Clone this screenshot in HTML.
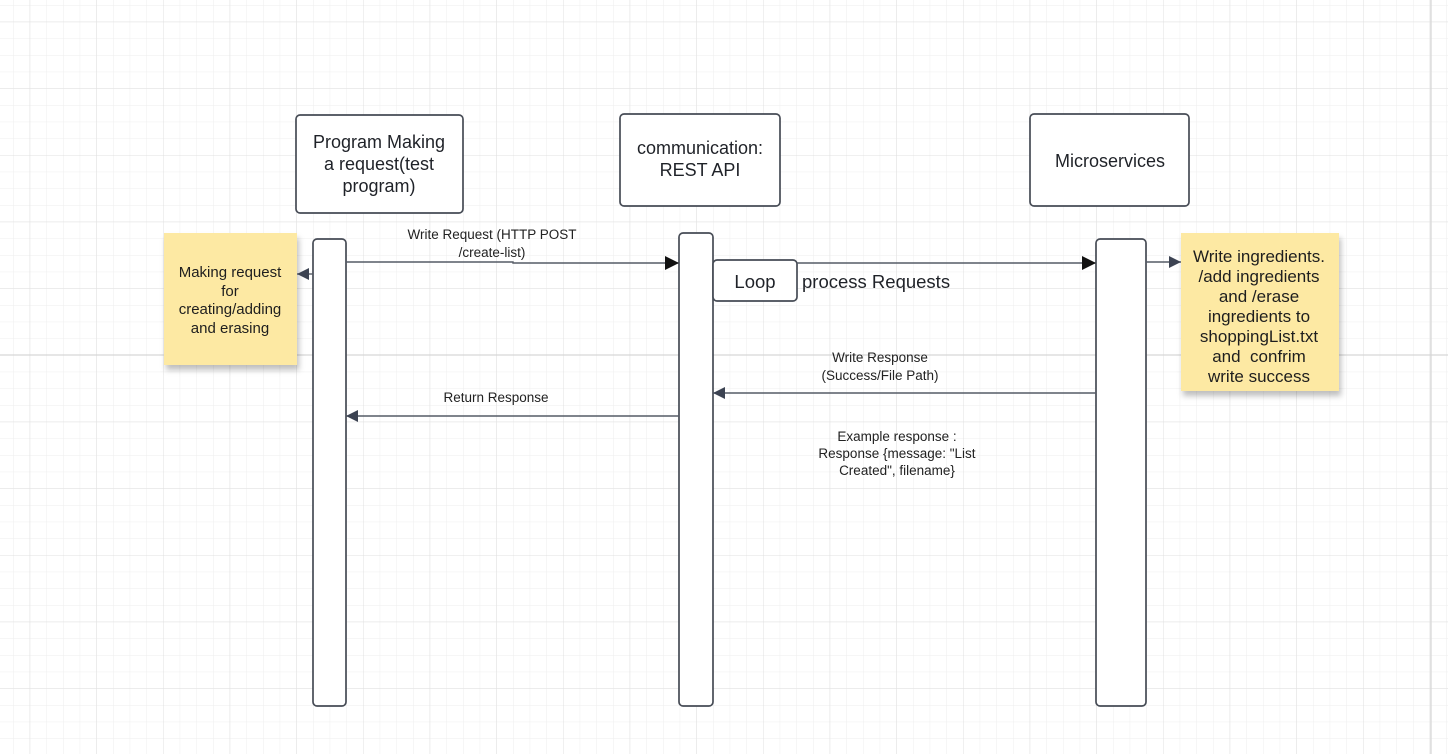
<!DOCTYPE html>
<html><head><meta charset="utf-8"><style>
html,body{margin:0;padding:0;background:#fff;}
svg{display:block;font-family:"Liberation Sans",Arial,sans-serif;}
</style></head><body>
<svg width="1448" height="754" viewBox="0 0 1448 754" xmlns="http://www.w3.org/2000/svg">
<defs>
<pattern id="minor" x="29.67" y="21.67" width="16.667" height="16.667" patternUnits="userSpaceOnUse">
<path d="M0 0H16.667M0 0V16.667" stroke="#eeeeee" stroke-width="1" fill="none"/>
</pattern>
<pattern id="major" x="29.67" y="21.67" width="66.667" height="66.667" patternUnits="userSpaceOnUse">
<path d="M0 0H66.667M0 0V66.667" stroke="#e0e0e0" stroke-width="1" fill="none"/>
</pattern>
<filter id="sh" x="-10%" y="-10%" width="130%" height="130%"><feDropShadow dx="2" dy="5" stdDeviation="3" flood-color="#000" flood-opacity="0.25"/></filter>
<marker id="fa" viewBox="0 0 10 10" refX="10" refY="5" markerWidth="19" markerHeight="14" markerUnits="userSpaceOnUse" orient="auto"><path d="M0 0L10 5L0 10z" fill="#111"/></marker>
<marker id="sa" viewBox="0 0 10 10" refX="10" refY="5" markerWidth="13" markerHeight="12" markerUnits="userSpaceOnUse" orient="auto"><path d="M0 0L10 5L0 10z" fill="#3c4352"/></marker>
</defs>
<rect width="1448" height="754" fill="#fff"/>
<rect width="1448" height="754" fill="url(#minor)"/>
<rect width="1448" height="754" fill="url(#major)"/>
<path d="M0 355H1448M1431 0V754" stroke="#d6d6d6" stroke-width="1.2"/>

<g fill="#fff" stroke="#464b55" stroke-width="1.7">
<rect x="296" y="115" width="167" height="98" rx="4"/>
<rect x="620" y="114" width="160" height="92" rx="4"/>
<rect x="1030" y="114" width="159" height="92" rx="4"/>
<rect x="313" y="239" width="33" height="467" rx="4"/>
<rect x="679" y="233" width="34" height="473" rx="4"/>
<rect x="1096" y="239" width="50" height="467" rx="4"/>
<rect x="713" y="260" width="84" height="41" rx="4"/>
</g>

<rect x="164" y="233" width="133" height="132" fill="#fde9a3" filter="url(#sh)"/>
<rect x="1181" y="233" width="158" height="158" fill="#fde9a3" filter="url(#sh)"/>

<g stroke="#555b66" stroke-width="1.4" fill="none">
<path d="M346 262H513V263H679" marker-end="url(#fa)"/>
<path d="M797 263H1096" marker-end="url(#fa)"/>
<path d="M1146 262H1181" marker-end="url(#sa)"/>
<path d="M313 274H297" marker-end="url(#sa)"/>
<path d="M1096 393H713" marker-end="url(#sa)"/>
<path d="M679 416H346" marker-end="url(#sa)"/>
</g>

<g fill="#1f2228" text-anchor="middle" font-size="18">
<text x="379" y="148">Program Making</text>
<text x="379" y="170">a request(test</text>
<text x="379" y="192">program)</text>
<text x="700" y="154">communication:</text>
<text x="700" y="176">REST API</text>
<text x="1110" y="167">Microservices</text>
<text x="755" y="288" font-size="18.5">Loop</text>
</g>
<text x="802" y="288" font-size="18.5" fill="#1f2228">process Requests</text>

<g fill="#222" text-anchor="middle" font-size="13.5">
<text x="492" y="239">Write Request (HTTP POST</text>
<text x="492" y="257">/create-list)</text>
<text x="880" y="362">Write Response</text>
<text x="880" y="380">(Success/File Path)</text>
<text x="496" y="402">Return Response</text>
<text x="897" y="441">Example response :</text>
<text x="897" y="458">Response {message: "List</text>
<text x="897" y="475">Created", filename}</text>
</g>

<g fill="#1e1e1e" text-anchor="middle" font-size="15">
<text x="230" y="277">Making request</text>
<text x="230" y="296">for</text>
<text x="230" y="314">creating/adding</text>
<text x="230" y="333">and erasing</text>
</g>
<g fill="#1e1e1e" text-anchor="middle" font-size="17">
<text x="1259" y="262">Write ingredients.</text>
<text x="1259" y="282">/add ingredients</text>
<text x="1259" y="302">and /erase</text>
<text x="1259" y="322">ingredients to</text>
<text x="1259" y="342">shoppingList.txt</text>
<text x="1259" y="362" xml:space="preserve">and  confrim</text>
<text x="1259" y="382">write success</text>
</g>
</svg>
</body></html>
